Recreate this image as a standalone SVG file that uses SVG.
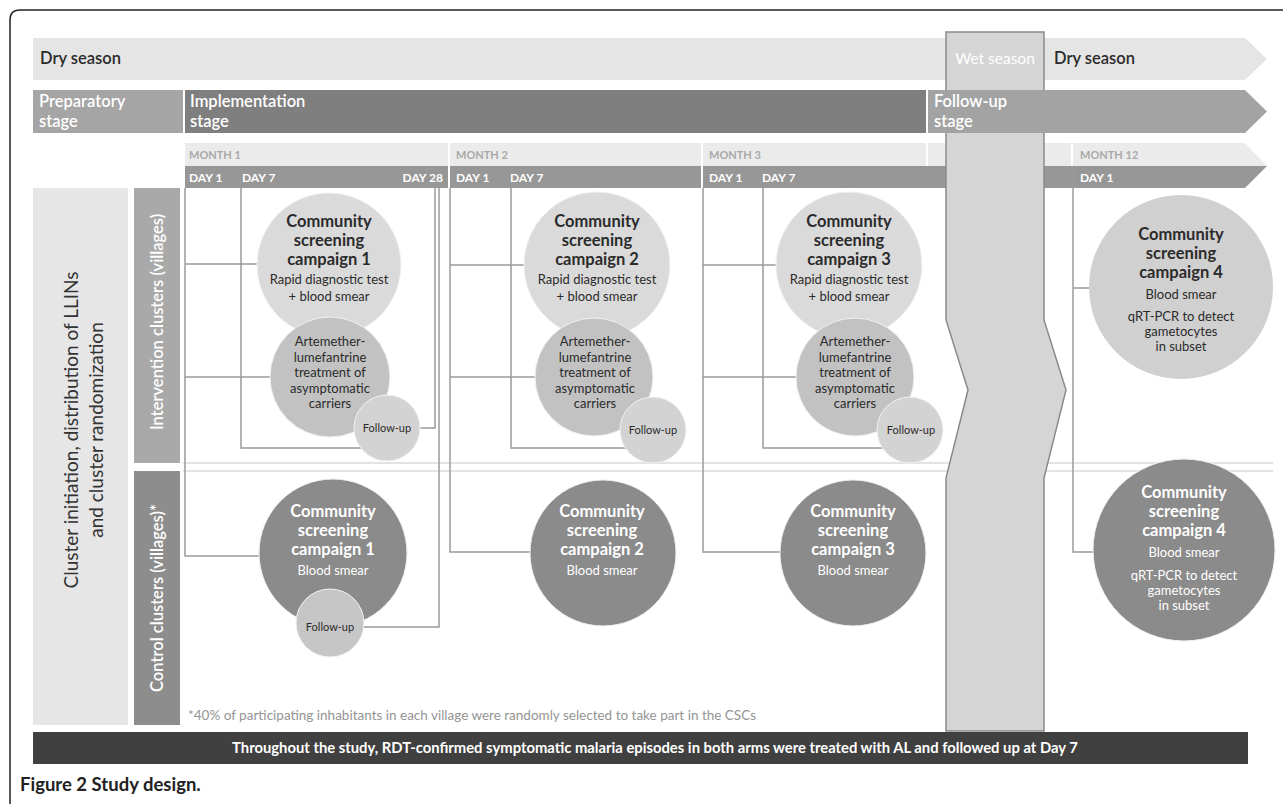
<svg xmlns="http://www.w3.org/2000/svg" width="1283" height="804" viewBox="0 0 1283 804">
<style>
text{font-family:Lato,"Liberation Sans",sans-serif}
.hd{font-size:16.5px;font-weight:600}
.wt{fill:#ffffff}
.dk{fill:#2b2b2b}
.mo{font-size:11px;font-weight:700;fill:#a9a9a9}
.dy{font-size:12px;font-weight:700;fill:#ffffff}
.cl{stroke:#9a9a9a;stroke-width:1.5;fill:none}
.t1{font-size:16.5px;font-weight:700;text-anchor:middle}
.t2{font-size:13px;text-anchor:middle}
.t3{font-size:13px;text-anchor:middle}
.fu{font-size:11px;text-anchor:middle;fill:#2b2b2b}
.csc{fill:#dadada;stroke:#f2f2f2;stroke-width:1}
.al{fill:#c2c2c2;stroke:#f2f2f2;stroke-width:1}
.fuc{fill:#d3d3d3;stroke:#f2f2f2;stroke-width:1}
.ctl{fill:#8b8b8b;stroke:#f2f2f2;stroke-width:1}
.cfu{fill:#c6c6c6;stroke:#f2f2f2;stroke-width:1}
</style>
<rect x="0" y="0" width="1283" height="804" fill="#ffffff"/>
<path d="M10,810 V20 Q10,10 20,10 H1290" fill="none" stroke="#222" stroke-width="1.5"/>

<g id="dry-season-bar">
<polygon points="33,38 1245,38 1267,59 1245,80 33,80" fill="#e5e5e5"/>
<text x="40" y="64" class="hd dk">Dry season</text>
</g>

<g id="timeline-rows">
<polygon points="185,143 1245,143 1267,166 185,166" fill="#ebebeb"/>
<polygon points="185,166 1267,166 1245,188 185,188" fill="#979797"/>
<g stroke="#ffffff" stroke-width="2">
<line x1="449" y1="143" x2="449" y2="188"/>
<line x1="702" y1="143" x2="702" y2="188"/>
<line x1="927" y1="143" x2="927" y2="166"/>
<line x1="1072" y1="143" x2="1072" y2="166"/>
</g>
<text x="189" y="159" class="mo">MONTH 1</text>
<text x="456" y="159" class="mo">MONTH 2</text>
<text x="709" y="159" class="mo">MONTH 3</text>
<text x="1080" y="159" class="mo">MONTH 12</text>
<text x="189" y="182" class="dy">DAY 1</text>
<text x="242" y="182" class="dy">DAY 7</text>
<text x="443" y="182" class="dy" text-anchor="end">DAY 28</text>
<text x="456" y="182" class="dy">DAY 1</text>
<text x="510" y="182" class="dy">DAY 7</text>
<text x="709" y="182" class="dy">DAY 1</text>
<text x="762" y="182" class="dy">DAY 7</text>
<text x="1080" y="182" class="dy">DAY 1</text>
</g>

<g id="arm-separator" stroke="#dadada" stroke-width="1.5">
<line x1="183" y1="463" x2="1273" y2="463"/>
<line x1="183" y1="471" x2="1273" y2="471"/>
</g>

<g id="wet-season">
<polygon points="946,32 1044,32 1044,320 1066,390 1044,478 1044,731 946,731 946,478 968,390 946,320" fill="#d5d5d5" stroke="#8a8a8a" stroke-width="1.5"/>
<text x="995" y="64" font-size="15.5" fill="#ffffff" text-anchor="middle">Wet season</text>
</g>

<g id="dry-season-2">
<text x="1054" y="64" class="hd dk">Dry season</text>
</g>

<g id="stage-bars">
<rect x="33" y="90" width="150" height="43" fill="#a5a5a5"/>
<text x="39" y="107" class="hd wt">Preparatory</text>
<text x="39" y="127" class="hd wt">stage</text>
<rect x="185" y="90" width="741" height="43" fill="#7f7f7f"/>
<text x="190" y="107" class="hd wt">Implementation</text>
<text x="190" y="127" class="hd wt">stage</text>
<polygon points="928,90 1245,90 1267,111.5 1245,133 928,133" fill="#a3a3a3"/>
<text x="934" y="107" class="hd wt">Follow-up</text>
<text x="934" y="127" class="hd wt">stage</text>
</g>

<g id="left-labels">
<rect x="33" y="188" width="95" height="537" fill="#e6e6e6"/>
<text transform="translate(78,430) rotate(-90)" font-size="19" fill="#333" text-anchor="middle">Cluster initiation, distribution of LLINs</text>
<text transform="translate(103,430) rotate(-90)" font-size="19" fill="#333" text-anchor="middle">and cluster randomization</text>
<rect x="134" y="188" width="46" height="275" fill="#a9a9a9"/>
<text transform="translate(163,322) rotate(-90)" font-size="16.5" font-weight="600" fill="#ffffff" text-anchor="middle">Intervention clusters (villages)</text>
<rect x="134" y="471" width="46" height="254" fill="#8d8d8d"/>
<text transform="translate(163,598) rotate(-90)" font-size="16.5" font-weight="600" fill="#ffffff" text-anchor="middle">Control clusters (villages)*</text>
</g>

<g id="connectors">
<path class="cl" d="M185,188 V556 H259"/>
<path class="cl" d="M185,264 H257"/>
<path class="cl" d="M185,377 H271"/>
<path class="cl" d="M241,188 V448 H361"/>
<path class="cl" d="M435,188 V428 H420"/>
<path class="cl" d="M439,188 V627 H364"/>
<path class="cl" d="M450,188 V552 H530"/>
<path class="cl" d="M450,265 H524"/>
<path class="cl" d="M450,377 H535"/>
<path class="cl" d="M511,188 V448 H627"/>
<path class="cl" d="M703,188 V552 H780"/>
<path class="cl" d="M703,265 H776"/>
<path class="cl" d="M703,377 H796"/>
<path class="cl" d="M763,188 V448 H884"/>
<path class="cl" d="M1073,166 V552 H1093"/>
<path class="cl" d="M1073,288 H1089"/>
</g>

<g id="int-campaign-1">
<circle cx="329" cy="265" r="72" class="csc"/>
<text x="329" y="227" class="t1 dk">Community</text>
<text x="329" y="246" class="t1 dk">screening</text>
<text x="329" y="265" class="t1 dk">campaign 1</text>
<text x="329" y="284" class="t2 dk">Rapid diagnostic test</text>
<text x="329" y="301" class="t2 dk">+ blood smear</text>
</g>
<g id="int-al-1">
<circle cx="330" cy="377" r="60" class="al"/>
<text x="330" y="346" class="t3 dk">Artemether-</text>
<text x="330" y="361.5" class="t3 dk">lumefantrine</text>
<text x="330" y="377" class="t3 dk">treatment of</text>
<text x="330" y="392.5" class="t3 dk">asymptomatic</text>
<text x="330" y="408" class="t3 dk">carriers</text>
</g>
<g id="int-followup-1">
<circle cx="387" cy="428" r="33" class="fuc"/>
<text x="387" y="432" class="fu">Follow-up</text>
</g>

<g id="int-campaign-2">
<circle cx="597" cy="265" r="73" class="csc"/>
<text x="597" y="227" class="t1 dk">Community</text>
<text x="597" y="246" class="t1 dk">screening</text>
<text x="597" y="265" class="t1 dk">campaign 2</text>
<text x="597" y="284" class="t2 dk">Rapid diagnostic test</text>
<text x="597" y="301" class="t2 dk">+ blood smear</text>
</g>
<g id="int-al-2">
<circle cx="594" cy="377" r="59" class="al"/>
<text x="595" y="346" class="t3 dk">Artemether-</text>
<text x="595" y="361.5" class="t3 dk">lumefantrine</text>
<text x="595" y="377" class="t3 dk">treatment of</text>
<text x="595" y="392.5" class="t3 dk">asymptomatic</text>
<text x="595" y="408" class="t3 dk">carriers</text>
</g>
<g id="int-followup-2">
<circle cx="653" cy="430" r="33" class="fuc"/>
<text x="653" y="434" class="fu">Follow-up</text>
</g>

<g id="int-campaign-3">
<circle cx="849" cy="265" r="73" class="csc"/>
<text x="849" y="227" class="t1 dk">Community</text>
<text x="849" y="246" class="t1 dk">screening</text>
<text x="849" y="265" class="t1 dk">campaign 3</text>
<text x="849" y="284" class="t2 dk">Rapid diagnostic test</text>
<text x="849" y="301" class="t2 dk">+ blood smear</text>
</g>
<g id="int-al-3">
<circle cx="855" cy="377" r="59" class="al"/>
<text x="855" y="346" class="t3 dk">Artemether-</text>
<text x="855" y="361.5" class="t3 dk">lumefantrine</text>
<text x="855" y="377" class="t3 dk">treatment of</text>
<text x="855" y="392.5" class="t3 dk">asymptomatic</text>
<text x="855" y="408" class="t3 dk">carriers</text>
</g>
<g id="int-followup-3">
<circle cx="910" cy="430" r="33" class="fuc"/>
<text x="911" y="434" class="fu">Follow-up</text>
</g>

<g id="int-campaign-4">
<circle cx="1181" cy="287" r="92" fill="#d0d0d0"/>
<text x="1181" y="240" class="t1 dk">Community</text>
<text x="1181" y="259" class="t1 dk">screening</text>
<text x="1181" y="278" class="t1 dk">campaign 4</text>
<text x="1181" y="299" class="t2 dk">Blood smear</text>
<text x="1181" y="321" class="t2 dk">qRT-PCR to detect</text>
<text x="1181" y="336" class="t2 dk">gametocytes</text>
<text x="1181" y="351" class="t2 dk">in subset</text>
</g>

<g id="ctl-campaign-1">
<circle cx="333" cy="553" r="74" class="ctl"/>
<text x="333" y="517" class="t1 wt">Community</text>
<text x="333" y="536" class="t1 wt">screening</text>
<text x="333" y="555" class="t1 wt">campaign 1</text>
<text x="333" y="575" class="t2 wt">Blood smear</text>
</g>
<g id="ctl-followup-1">
<circle cx="330" cy="623" r="34" class="cfu"/>
<text x="330" y="631" class="fu">Follow-up</text>
</g>

<g id="ctl-campaign-2">
<circle cx="603" cy="553" r="73" class="ctl"/>
<text x="602" y="517" class="t1 wt">Community</text>
<text x="602" y="536" class="t1 wt">screening</text>
<text x="602" y="555" class="t1 wt">campaign 2</text>
<text x="602" y="575" class="t2 wt">Blood smear</text>
</g>

<g id="ctl-campaign-3">
<circle cx="853" cy="553" r="73" class="ctl"/>
<text x="853" y="517" class="t1 wt">Community</text>
<text x="853" y="536" class="t1 wt">screening</text>
<text x="853" y="555" class="t1 wt">campaign 3</text>
<text x="853" y="575" class="t2 wt">Blood smear</text>
</g>

<g id="ctl-campaign-4">
<circle cx="1184" cy="550" r="91" class="ctl"/>
<text x="1184" y="498" class="t1 wt">Community</text>
<text x="1184" y="517" class="t1 wt">screening</text>
<text x="1184" y="536" class="t1 wt">campaign 4</text>
<text x="1184" y="557" class="t2 wt">Blood smear</text>
<text x="1184" y="580" class="t2 wt">qRT-PCR to detect</text>
<text x="1184" y="595" class="t2 wt">gametocytes</text>
<text x="1184" y="610" class="t2 wt">in subset</text>
</g>

<g id="footnote">
<text x="188" y="720" font-size="13.5" fill="#949494">*40% of participating inhabitants in each village were randomly selected to take part in the CSCs</text>
</g>

<g id="bottom-bar">
<rect x="33" y="732" width="1215" height="32" fill="#404040"/>
<text x="655" y="753" font-size="14.8" font-weight="700" fill="#ffffff" text-anchor="middle">Throughout the study, RDT-confirmed symptomatic malaria episodes in both arms were treated with AL and followed up at Day 7</text>
</g>

<g id="caption">
<text x="20" y="791" font-size="18.5" font-weight="700" fill="#222">Figure 2 Study design.</text>
</g>
</svg>
